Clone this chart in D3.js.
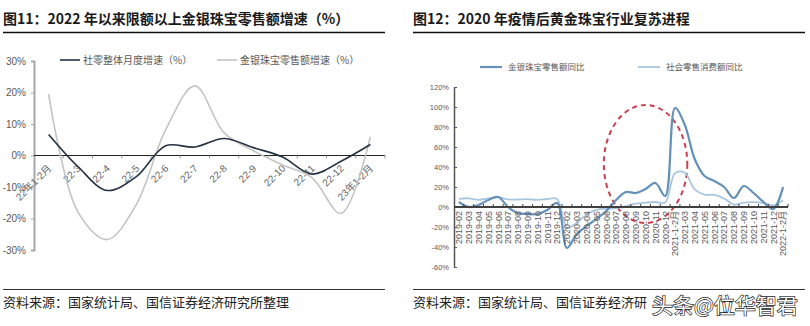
<!DOCTYPE html>
<html><head><meta charset="utf-8">
<script src="https://cdn.jsdelivr.net/npm/d3@7"></script>
<style>
body{margin:0;background:#fff;}
svg{display:block;}
</style></head><body>
<svg id="c" width="810" height="326"></svg>
<script>
// ---------- Chart 11 data ----------
const leftCats = ["22年1-2月","22-3","22-4","22-5","22-6","22-7","22-8","22-9","22-10","22-11","22-12","23年1-2月"];
const retailTotal   = [6.7,-3.5,-11.1,-6.7,3.1,2.7,5.4,2.5,-0.5,-5.9,-1.8,3.5];
const jewelryGrowth = [19.5,-17.9,-26.7,-15.5,8.1,22.1,7.2,1.5,-3,-7,-18.4,5.9];
const leftTicks = [-30,-20,-10,0,10,20,30];
const leftNames = ["社零整体月度增速（%）","金银珠宝零售额增速（%）"];

// ---------- Chart 12 data ----------
const rightCats = ["2019-02","2019-03","2019-04","2019-05","2019-06","2019-07","2019-08","2019-09","2019-10","2019-11","2019-12",
  "2020-02","2020-03","2020-04","2020-05","2020-06","2020-07","2020-08","2020-09","2020-10","2020-11","2020-12",
  "2021-1-2月","2021-03","2021-04","2021-05","2021-06","2021-07","2021-08","2021-09","2021-10","2021-11","2021-12","2022-1-2月"];
const jewelryYoY = [5,0,2,7,10,0,-6,-7,-7,-3,4,
  -41,-27,-19,-12,-4,7,15,14,18,24,11,
  99,82,48,31,26,20,9,21,14,5,-2,20];
const retailYoY = [8.2,8.7,7.2,8.6,9.8,7.6,7.5,7.8,7.2,8.0,8.0,
  -20.5,-15.8,-7.5,-2.8,-1.8,-1.1,0.5,3.3,4.3,5.0,4.6,
  33.8,34.2,17.7,12.4,12.1,8.5,2.5,4.4,4.9,3.9,1.7,6.7];
const rightTicks = [-60,-40,-20,0,20,40,60,80,100,120];
const rightNames = ["金银珠宝零售额同比","社会零售消费额同比"];
const highlightCat = "2020-10";
const highlightRange = [-16, 102];

const svg = d3.select("#c");
const NUM = "'Liberation Sans','Noto Sans CJK SC',sans-serif";
const CJK = "'Noto Sans CJK SC',sans-serif";

// ---------- Titles / frames ----------
function frame(x0, x1, title, src) {
  svg.append("text").attr("x", x0).attr("y", 24).text(title)
    .style("font-family", CJK).style("font-size", "14px").style("font-weight", "bold").attr("fill", "#1a1a1a");
  svg.append("line").attr("x1", x0).attr("x2", x1).attr("y1", 32.5).attr("y2", 32.5)
    .attr("stroke", "#111").attr("stroke-width", 1.5);
  svg.append("line").attr("x1", x0).attr("x2", x1).attr("y1", 289.5).attr("y2", 289.5)
    .attr("stroke", "#333").attr("stroke-width", 1);
  svg.append("text").attr("x", x0).attr("y", 307).text(src)
    .style("font-family", CJK).style("font-size", "13px").attr("fill", "#222");
}
frame(3, 385, "图11：2022 年以来限额以上金银珠宝零售额增速（%）", "资料来源：国家统计局、国信证券经济研究所整理");
frame(413, 805, "图12：2020 年疫情后黄金珠宝行业复苏进程", "资料来源：国家统计局、国信证券经济研");

// ---------- Chart 11 ----------
{
  const x = d3.scaleBand().domain(leftCats).range([34, 385]);
  const y = d3.scaleLinear().domain([-30, 30]).range([250, 61]);
  const g = svg.append("g");
  const ya = g.append("g").attr("transform", "translate(34,0)")
    .call(d3.axisLeft(y).tickValues(leftTicks).tickFormat(d => d + "%").tickSize(3).tickPadding(5));
  ya.select(".domain").attr("stroke", "#a6a6a6").attr("stroke-width", 2);
  ya.selectAll(".tick line").attr("stroke", "#a6a6a6");
  ya.selectAll("text").style("font-family", NUM).style("font-size", "10px").attr("fill", "#595959");
  const y0 = y(0);
  g.append("line").attr("x1", 34).attr("x2", 385).attr("y1", y0).attr("y2", y0).attr("stroke", "#222").attr("stroke-width", 1);
  const bounds = leftCats.slice(1).map(c => x(c)).concat([x.range()[1]]);
  g.selectAll(".xt").data(bounds).join("line").attr("x1", d => d).attr("x2", d => d)
    .attr("y1", y0).attr("y2", y0 + 3).attr("stroke", "#999");
  g.selectAll(".xl").data(leftCats).join("text")
    .attr("transform", d => `translate(${x(d) + x.bandwidth() / 2 + 3.5},${y0 + 13.5}) rotate(-45)`)
    .attr("text-anchor", "end").text(d => d)
    .style("font-family", NUM).style("font-size", "10px").attr("fill", "#666");
  const line = d3.line().x((d, i) => x(leftCats[i]) + x.bandwidth() / 2).y(d => y(d)).curve(d3.curveCatmullRom.alpha(0.5));
  g.append("path").attr("d", line(jewelryGrowth)).attr("fill", "none").attr("stroke", "#c4c4c4").attr("stroke-width", 1.6);
  g.append("path").attr("d", line(retailTotal)).attr("fill", "none").attr("stroke", "#243243").attr("stroke-width", 1.6);
  const leg = [{x: 60, c: "#243243"}, {x: 217, c: "#c4c4c4"}];
  leg.forEach((l, i) => {
    g.append("line").attr("x1", l.x).attr("x2", l.x + 20).attr("y1", 60).attr("y2", 60).attr("stroke", l.c).attr("stroke-width", 1.6);
    g.append("text").attr("x", l.x + 23).attr("y", 60).attr("dy", "0.36em").text(leftNames[i])
      .style("font-family", CJK).style("font-size", "10px").attr("fill", "#595959");
  });
}

// ---------- Chart 12 ----------
{
  const x = d3.scaleBand().domain(rightCats).range([454, 788]);
  const y = d3.scaleLinear().domain([-60, 120]).range([267, 87]);
  const g = svg.append("g");
  const bw = x.bandwidth();
  const ya = g.append("g").attr("transform", "translate(454,0)")
    .call(d3.axisRight(y).tickValues(rightTicks).tickFormat("").tickSize(3).tickSizeOuter(0));
  ya.select(".domain").attr("stroke", "#555").attr("stroke-width", 1.5);
  ya.selectAll(".tick line").attr("stroke", "#555");
  g.selectAll(".yl").data(rightTicks).join("text").attr("x", 449).attr("y", d => y(d)).attr("dy", "0.35em")
    .attr("text-anchor", "end").text(d => d + "%")
    .style("font-family", NUM).style("font-size", "7.5px").attr("fill", "#595959");
  g.append("ellipse").attr("cx", x(highlightCat) + bw / 2).attr("cy", y((highlightRange[0] + highlightRange[1]) / 2))
    .attr("rx", bw * 4.25).attr("ry", (y(highlightRange[0]) - y(highlightRange[1])) / 2)
    .attr("fill", "none").attr("stroke", "#c9404f").attr("stroke-width", 2).attr("stroke-dasharray", "5,4");
  const line = d3.line().x((d, i) => x(rightCats[i]) + bw / 2).y(d => y(d)).curve(d3.curveCatmullRom.alpha(0.5));
  g.append("path").attr("d", line(retailYoY)).attr("fill", "none").attr("stroke", "#a9c6e0").attr("stroke-width", 1.8);
  g.append("path").attr("d", line(jewelryYoY)).attr("fill", "none").attr("stroke", "#6590b8").attr("stroke-width", 2.2);
  const y0 = y(0);
  g.append("line").attr("x1", 454).attr("x2", 788).attr("y1", y0).attr("y2", y0).attr("stroke", "#404040").attr("stroke-width", 2);
  const bounds = rightCats.slice(1).map(c => x(c)).concat([x.range()[1]]);
  g.selectAll(".xt").data(bounds).join("line").attr("x1", d => d).attr("x2", d => d)
    .attr("y1", y0).attr("y2", y0 - 3).attr("stroke", "#404040");
  g.selectAll(".xl").data(rightCats).join("text")
    .attr("transform", d => `translate(${x(d) + bw / 2 + 3.3},${y0 + 4}) rotate(-90)`)
    .attr("text-anchor", "end").text(d => d)
    .style("font-family", NUM).style("font-size", "9px").attr("fill", "#595959");
  const leg = [{x: 480, c: "#6590b8", w: 2.2}, {x: 638, c: "#a9c6e0", w: 1.8}];
  leg.forEach((l, i) => {
    g.append("line").attr("x1", l.x).attr("x2", l.x + 22).attr("y1", 67).attr("y2", 67).attr("stroke", l.c).attr("stroke-width", l.w);
    g.append("text").attr("x", l.x + 28).attr("y", 67).attr("dy", "0.36em").text(rightNames[i])
      .style("font-family", CJK).style("font-size", "8.5px").attr("fill", "#595959");
  });
}

// watermark
svg.append("text").attr("x", 652).attr("y", 313).text("头条@位华智君")
  .style("font-family", CJK).style("font-size", "21px")
  .attr("fill", "#fff").attr("stroke", "#222").attr("stroke-width", 1.4).attr("paint-order", "stroke");
</script>
</body></html>
